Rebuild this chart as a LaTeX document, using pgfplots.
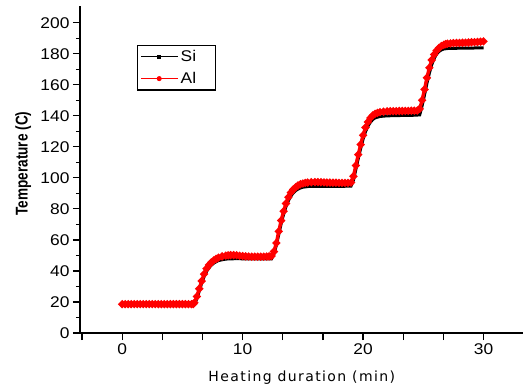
\documentclass[border=0pt]{standalone}
\usepackage{fontspec}
\setmainfont{Liberation Sans}
\newfontfamily\tickfont[FakeStretch=1.12]{Liberation Sans}
\newfontfamily\ylabfont[FakeStretch=0.8]{Liberation Sans}
\newfontfamily\xlabfont[LetterSpace=10]{DejaVu Sans}
\usepackage{pgfplots}
\usepackage{pgfplotstable}
\pgfplotsset{compat=1.18}

\pgfplotstableread{
t T
0 18.6
0.25 18.6
0.5 18.6
0.75 18.6
1 18.6
1.25 18.6
1.5 18.6
1.75 18.6
2 18.6
2.25 18.6
2.5 18.6
2.75 18.6
3 18.6
3.25 18.6
3.5 18.6
3.75 18.6
4 18.6
4.25 18.6
4.5 18.6
4.75 18.6
5 18.6
5.25 18.6
5.5 18.6
5.75 18.6
5.9 18.7
6.0 19.5
6.2 23.5
6.4 28.5
6.6 33.5
6.8 38
7.0 41.5
7.2 43.8
7.4 45.5
7.6 46.8
7.8 47.8
8.0 48.6
8.3 49.4
8.6 49.9
8.8 50.1
9.0 50.2
9.25 50.2
9.5 50.1
9.75 49.8
10 49.6
10.25 49.4
10.5 49.3
10.75 49.2
11 49.2
11.25 49.2
11.5 49.2
11.75 49.2
12 49.3
12.2 49.4
12.4 49.6
12.6 52.5
12.8 58
13.0 65.5
13.2 72.5
13.4 78.5
13.6 83.5
13.8 87.5
14.0 90.5
14.2 92.5
14.4 94
14.6 95.1
14.8 95.9
15.0 96.4
15.2 96.8
15.4 97
15.7 97.2
16 97.3
16.25 97.3
16.5 97.2
16.75 97.1
17 97
17.25 97
17.5 96.9
17.75 96.9
18 96.8
18.25 96.8
18.5 96.8
18.75 96.8
19.0 97
19.2 101
19.4 108
19.6 115
19.8 121.5
20.0 127.5
20.2 132.5
20.4 136
20.6 138.6
20.8 140.3
21.0 141.3
21.2 141.9
21.4 142.4
21.7 142.7
22 142.9
22.25 143
22.5 143
22.75 143
23 143.1
23.25 143.1
23.5 143.2
23.75 143.2
24 143.3
24.25 143.3
24.5 143.4
24.7 144.5
24.9 150
25.1 157
25.3 164.5
25.5 171
25.7 176
25.9 179.5
26.1 182
26.3 183.8
26.5 185
26.7 185.8
26.85 186.2
27.0 186.5
27.25 186.7
27.5 186.9
27.75 187
28 187
28.25 187.1
28.5 187.2
28.75 187.3
29 187.4
29.25 187.5
29.5 187.6
29.75 187.8
30 188
}\Al

\pgfplotstableread{
t T
0 18.3
1 18.3
2 18.3
3 18.3
4 18.3
5 18.3
5.9 18.3
6.05 19.5
6.2 22
6.4 27
6.6 32
6.8 36.3
7.0 39.6
7.2 42
7.4 43.7
7.6 45
7.8 46
8.0 46.7
8.4 47.4
8.8 47.8
9.5 47.9
10.5 47.8
11.5 47.7
12.4 47.8
12.6 51
12.8 56.5
13.0 63.5
13.2 70.5
13.4 76.5
13.6 81.5
13.8 85.3
14.0 88.2
14.2 90.3
14.4 91.8
14.6 92.8
14.8 93.5
15.0 94
15.5 94.5
16 94.6
17 94.5
18 94.5
19.0 94.7
19.2 98.5
19.4 105.5
19.6 112.5
19.8 119
20.0 125
20.2 129.8
20.4 133.3
20.6 135.8
20.8 137.6
21.0 138.7
21.4 139.6
22 140
23 140.2
24 140.3
24.7 140.6
24.9 146.5
25.1 153.5
25.3 161
25.5 167.5
25.7 173
25.9 177
26.1 179.8
26.3 181.5
26.5 182.5
26.7 183.1
27.0 183.4
28 183.6
29 183.7
30 183.8
}\Si

\begin{document}
\begin{tikzpicture}
\useasboundingbox (-80pt,-57pt) rectangle (444pt,333pt);
\begin{axis}[
  at={(0,0)}, anchor=south west,
  scale only axis,
  width=442.7pt, height=327pt,
  xmin=-3.5, xmax=33.25,
  ymin=0, ymax=210.8,
  axis lines=left,
  axis line style={-, line width=1.2pt},
  tick align=outside,
  major tick length=7pt,
  minor tick length=4pt,
  every tick/.style={black, line width=1.2pt},
  xtick={-3.3333,0,3.3333,6.6667,10,13.3333,16.6667,20,23.3333,26.6667,30},
  xticklabels={,0,,,10,,,20,,,30},
  minor x tick num=1,
  ytick={0,20,...,200},
  minor y tick num=1,
  /pgf/number format/assume math mode=true,
  ticklabel style={font=\tickfont\fontsize{15.5}{17}\selectfont},
  xlabel={\xlabfont\fontsize{14}{16}\selectfont Heating duration (min)},
  ylabel={\ylabfont\fontsize{17}{19}\selectfont\bfseries Temperature (C)},
  xlabel style={at={(axis description cs:0.501,-0.138)}, anchor=center},
  ylabel style={at={(axis description cs:-0.128,0.518)}, anchor=center, rotate=0},
  legend style={at={(axis description cs:0.129,0.881)}, anchor=north west,
    draw=black, line width=1.2pt, font=\tickfont\fontsize{15.5}{17}\selectfont,
    inner sep=3pt, row sep=5pt},
  legend cell align=left,
  legend image code/.code={\draw[mark repeat=2,mark phase=2,#1] plot coordinates {(0pt,0pt) (18pt,0pt) (37pt,0pt)};},
]
\addplot[black, line width=3pt, forget plot] table[x=t,y=T] {\Si};
\addplot[red, line width=3.4pt, mark=*, mark size=1.9pt, forget plot] table[x=t,y=T] {\Al};
\addlegendimage{black, line width=1pt, mark=square*, mark size=1.3pt}
\addlegendentry{\makebox[30pt][l]{Si}}
\addlegendimage{red, line width=1pt, mark=*, mark size=2pt}
\addlegendentry{\makebox[30pt][l]{Al}}
\end{axis}
\end{tikzpicture}
\end{document}
